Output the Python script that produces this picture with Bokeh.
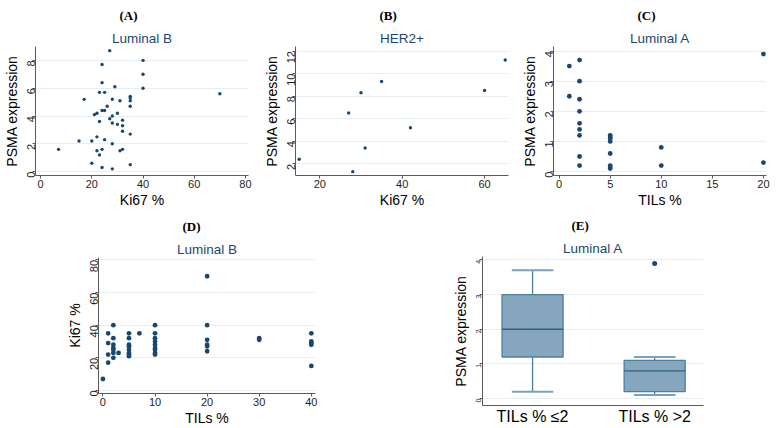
import math

from bokeh.embed import file_html
from bokeh.layouts import column, row
from bokeh.models import FixedTicker, Range1d, Title
from bokeh.plotting import figure
from bokeh.resources import INLINE

NAVY = "#1a476f"
GRID = "#e6eef1"
AXIS = "#5a5a5a"
TEXT = "#1e1e1e"
SANS = "Liberation Sans"
SERIF = "Liberation Serif"

# (A) Luminal B: Ki67 % against PSMA expression
lumb_ki67 = [27, 40, 40, 40, 24, 24, 29, 23, 25, 70, 17, 28, 31, 35, 35, 35,
             35, 26, 24, 25, 21, 22, 28, 30, 27, 23, 28, 32, 30, 32, 32, 35,
             22, 15, 20, 25, 28, 7, 22, 24, 23, 31, 32, 20, 35, 24, 28]
lumb_psma = [8.7, 8.0, 7.0, 6.0, 7.7, 6.4, 6.1, 5.7, 5.7, 5.6, 5.2, 5.2, 5.1,
             5.4, 5.3, 5.1, 4.7, 4.7, 4.4, 4.4, 4.1, 4.2, 4.0, 4.2, 3.8, 3.6,
             3.5, 3.7, 3.4, 3.3, 2.9, 2.7, 2.5, 2.2, 2.2, 2.3, 2.0, 1.6, 1.5,
             1.6, 1.2, 1.5, 1.6, 0.6, 0.5, 0.3, 0.2]

# (B) HER2+: Ki67 % against PSMA expression
her2_ki67 = [15, 28, 27, 30, 31, 35, 42, 60, 65]
her2_psma = [2.4, 1.3, 6.5, 8.3, 3.4, 9.3, 5.2, 8.5, 11.2]

# (C) Luminal A: TILs % against PSMA expression
luma_tils = [1, 1, 2, 2, 2, 2, 2, 2, 2, 2, 2, 5, 5, 5, 5, 5, 5, 5, 5,
             10, 10, 20, 20]
luma_psma = [3.5, 2.5, 3.7, 3.0, 2.4, 2.0, 1.6, 1.4, 1.2, 0.5, 0.2,
             1.2, 1.15, 1.1, 1.0, 0.6, 0.2, 0.15, 0.1, 0.8, 0.2, 3.9, 0.3]

# (D) Luminal B: TILs % against Ki67 %
lumb_tils = [0, 1, 1, 1, 1, 2, 2, 2, 2, 2, 2, 2, 3,
             5, 5, 5, 5, 5, 5, 5, 5, 7,
             10, 10, 10, 10, 10, 10, 10, 10, 10,
             20, 20, 20, 20, 20, 20, 30, 30, 40, 40, 40, 40, 40]
lumb_ki67_d = [7, 35, 29, 22, 17, 40, 32, 28, 26, 25, 23, 20, 23,
               35, 32, 28, 27, 25, 23, 22, 21, 35,
               40, 35, 32, 30, 28, 26, 25, 23, 22,
               70, 40, 31, 28, 27, 24, 32, 31, 35, 30, 29, 28, 15]

# (E) Luminal A: PSMA expression by TILs group (box summaries)
box_groups = ["TILs % \u22642", "TILs % >2"]
box_pos = [1, 2]
box_lower = [0.2, 0.1]
box_q1 = [1.2, 0.2]
box_median = [2.0, 0.8]
box_q3 = [3.0, 1.1]
box_upper = [3.7, 1.2]
outlier_pos = [2]
outlier_psma = [3.9]


def base_figure(width, height, left, right, top, bottom, xr, yr):
    p = figure(width=width, height=height, output_backend="svg",
               toolbar_location=None, x_range=Range1d(*xr),
               y_range=Range1d(*yr), min_border=0,
               min_border_left=left, min_border_right=right,
               min_border_top=top, min_border_bottom=bottom)
    p.background_fill_color = "white"
    p.border_fill_color = "white"
    p.outline_line_color = None
    p.xgrid.grid_line_color = None
    p.ygrid.grid_line_color = GRID
    p.ygrid.grid_line_width = 1
    for ax in (p.xaxis[0], p.yaxis[0]):
        ax.axis_line_color = AXIS
        ax.axis_line_width = 1
        ax.major_tick_line_color = AXIS
        ax.major_tick_out = 3
        ax.major_tick_in = 0
        ax.minor_tick_line_color = None
        ax.major_label_text_font = SANS
        ax.major_label_text_color = TEXT
        ax.major_label_text_font_size = "11px"
        ax.axis_label_text_font = SANS
        ax.axis_label_text_font_style = "normal"
        ax.axis_label_text_color = "black"
        ax.axis_label_text_font_size = "14px"
        ax.major_label_standoff = 1
        ax.axis_label_standoff = 1
    p.yaxis.major_label_orientation = math.pi / 2
    return p


def add_titles(p, letter, name, shift):
    # panel letter on the outer line, group name just above the frame
    p.title.text = f"({letter})"
    p.title.align = "left"
    p.title.offset = shift
    p.title.text_font = SERIF
    p.title.text_font_style = "bold"
    p.title.text_font_size = "13px"
    p.title.text_color = "black"
    p.add_layout(Title(text=name, align="center", text_font=SANS,
                       text_font_style="normal", text_font_size="13.5px",
                       text_color=NAVY, standoff=2), "above")


def scatter_panel(letter, name, xs, ys, xlab, ylab, xr, yr, xticks, yticks,
                  dims, dot, shift=84):
    p = base_figure(*dims, xr, yr)
    add_titles(p, letter, name, shift)
    p.xaxis.ticker = FixedTicker(ticks=xticks)
    p.yaxis.ticker = FixedTicker(ticks=yticks)
    p.xaxis.axis_label = xlab
    p.yaxis.axis_label = ylab
    p.scatter(xs, ys, size=dot, fill_color=NAVY, line_color=None)
    return p


pa = scatter_panel("A", "Luminal B", lumb_ki67, lumb_psma, "Ki67 %",
                   "PSMA expression", (-2, 81.2), (-0.28, 9.0),
                   [0, 20, 40, 60, 80], [0, 2, 4, 6, 8],
                   (260, 210, 34, 12, 43, 32), 3.4)
pb = scatter_panel("B", "HER2+", her2_ki67, her2_psma, "Ki67 %",
                   "PSMA expression", (14.1, 65.8), (0.96, 12.4),
                   [20, 40, 60], [2, 4, 6, 8, 10, 12],
                   (258, 210, 34, 10, 43, 32), 3.4)
pc = scatter_panel("C", "Luminal A", luma_tils, luma_psma, "TILs %",
                   "PSMA expression", (-0.55, 20.3), (-0.13, 4.15),
                   [0, 5, 10, 15, 20], [0, 1, 2, 3, 4],
                   (260, 210, 33, 12, 43, 32), 4.8)
pd = scatter_panel("D", "Luminal B", lumb_tils, lumb_ki67_d, "TILs %",
                   "Ki67 %", (-0.85, 40.8), (-1.9, 81.5),
                   [0, 10, 20, 30, 40], [0, 20, 40, 60, 80],
                   (400, 218, 98, 85, 47, 26), 4.8)

# (E) box plot drawn from the summary arrays
pe = base_figure(378, 218, 82, 75, 46, 23, (0.59, 2.40), (-0.2, 4.1))
add_titles(pe, "E", "Luminal A", 89)
pe.xaxis.ticker = FixedTicker(ticks=box_pos, minor_ticks=[])
pe.xaxis.major_label_overrides = {pos: g for pos, g in zip(box_pos, box_groups)}
pe.xaxis.major_label_text_font_size = "16px"
pe.xaxis.major_label_text_color = "black"
pe.xaxis.major_tick_out = 0
pe.xaxis.major_label_standoff = 2
pe.yaxis.ticker = FixedTicker(ticks=[0, 1, 2, 3, 4])
pe.yaxis.major_label_text_font_size = "7px"
pe.yaxis.major_tick_out = 3
pe.yaxis.axis_label = "PSMA expression"
pe.yaxis.axis_label_standoff = 2

BOX_FILL = "#86a6bd"
BOX_LINE = "#4d7ea2"
cap_half = 0.17
pe.segment(x0=box_pos, y0=box_q3, x1=box_pos, y1=box_upper,
           line_color=BOX_LINE, line_width=1.3)
pe.segment(x0=box_pos, y0=box_lower, x1=box_pos, y1=box_q1,
           line_color=BOX_LINE, line_width=1.3)
pe.segment(x0=[x - cap_half for x in box_pos], y0=box_upper,
           x1=[x + cap_half for x in box_pos], y1=box_upper,
           line_color="#7c9fba", line_width=2)
pe.segment(x0=[x - cap_half for x in box_pos], y0=box_lower,
           x1=[x + cap_half for x in box_pos], y1=box_lower,
           line_color="#7c9fba", line_width=2)
pe.vbar(x=box_pos, width=0.5, bottom=box_q1, top=box_q3,
        fill_color=BOX_FILL, line_color=BOX_LINE, line_width=1.3)
pe.segment(x0=[x - 0.25 for x in box_pos], y0=box_median,
           x1=[x + 0.25 for x in box_pos], y1=box_median,
           line_color="#2f5f83", line_width=1.3)
pe.scatter(outlier_pos, outlier_psma, size=5, fill_color=NAVY, line_color=None)

# each bottom panel sits in its own column so their frames are laid out
# independently of one another
layout = column(row(pa, pb, pc), row(column(pd), column(pe)))
open("out.html", "w").write(file_html(layout, INLINE))
